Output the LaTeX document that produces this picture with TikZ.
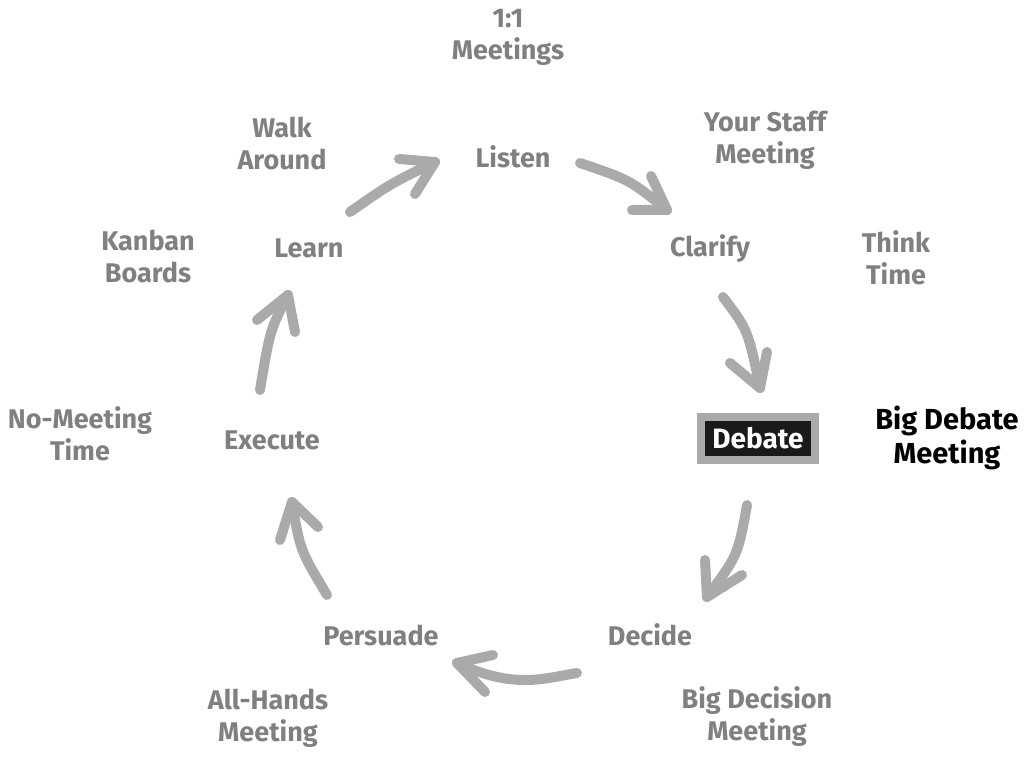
\documentclass[tikz,border=0pt]{standalone}
\usepackage{fontspec}
\setmainfont{Fira Sans}
\definecolor{txtgray}{HTML}{808080}
\definecolor{arrgray}{HTML}{AAAAAA}
\definecolor{boxblack}{HTML}{1A1A1A}
\begin{document}
\begin{tikzpicture}[x=1pt,y=-1pt,
  lbl/.style={font=\fontsize{27}{32}\selectfont\bfseries, text=txtgray, align=center, inner sep=0pt},
  blk/.style={lbl, font=\fontsize{29}{34}\selectfont\bfseries, text=black},
  arr/.style={draw=arrgray, line width=10pt, line cap=round, line join=round}]
\useasboundingbox (0,0) rectangle (1024,759);
\fill[white] (0,0) rectangle (1024,759);

% labels
\node[lbl] (meet11) at (508,37) {1:1\\Meetings};
\node[lbl] (walk) at (282,143) {Walk\\Around};
\node[lbl] (listen) at (513,157) {Listen};
\node[lbl] (staff) at (765,140) {Your Staff\\Meeting};
\node[lbl] (kanban) at (148,256) {Kanban\\Boards};
\node[lbl] (learn) at (309,248) {Learn};
\node[lbl] (clarify) at (710,249) {Clarify};
\node[lbl] (think) at (896,258) {Think\\Time};
\node[lbl] (nomeet) at (80,434) {No-Meeting\\Time};
\node[lbl] (execute) at (272,440) {Execute};
\node[blk] (bigdeb) at (947,438) {Big Debate\\Meeting};
\node[lbl] (persuade) at (381,635) {Persuade};
\node[lbl] (decide) at (650,635) {Decide};
\node[lbl] (allhands) at (268,718) {All-Hands\\Meeting};
\node[lbl] (bigdec) at (757,717) {Big Decision\\Meeting};

% debate box
\fill[arrgray] (697,413) rectangle (819,464);
\node[fill=boxblack, text=white, minimum width=106pt, minimum height=35pt, inner sep=0pt,
  font=\fontsize{28}{33}\selectfont\bfseries] (debate) at (758,438) {Debate};

% arrow coordinates
\coordinate (t1) at (350,212); \coordinate (h1) at (435,162);
\coordinate (t2) at (580,163); \coordinate (h2) at (667,210);
\coordinate (t3) at (723,297); \coordinate (h3) at (760,388);
\coordinate (t4) at (747,505); \coordinate (h4) at (707,597);
\coordinate (t5) at (577,673); \coordinate (h5) at (457,663);
\coordinate (t6) at (327,595); \coordinate (h6) at (292,502);
\coordinate (t7) at (260,390); \coordinate (h7) at (288,295);

% arrows
\draw[arr] (t1) .. controls (390,184) .. (h1);
\draw[arr] (399,159) -- (h1) -- (415,194);
\draw[arr] (t2) .. controls (630,180) .. (h2);
\draw[arr] (632,210) -- (h2) -- (651,176);
\draw[arr] (t3) .. controls (748,330) .. (h3);
\draw[arr] (730,363) -- (h3) -- (767,352);
\draw[arr] (t4) .. controls (738,555) .. (h4);
\draw[arr] (705,560) -- (h4) -- (742,575);
\draw[arr] (t5) .. controls (545,678) and (515,690) .. (h5);
\draw[arr] (493,655) -- (h5) -- (485,692);
\draw[arr] (t6) .. controls (300,550) .. (h6);
\draw[arr] (280,540) -- (h6) -- (318,527);
\draw[arr] (t7) .. controls (270,330) .. (h7);
\draw[arr] (257,320) -- (h7) -- (295,332);
\end{tikzpicture}
\end{document}
